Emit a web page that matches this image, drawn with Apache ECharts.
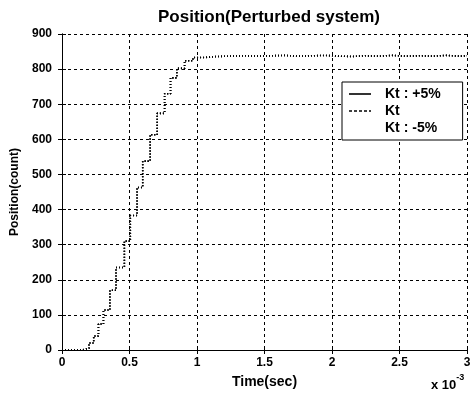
<!DOCTYPE html>
<html>
<head>
<meta charset="utf-8">
<script src="https://cdn.jsdelivr.net/npm/echarts@6/dist/echarts.min.js"></script>
<style>html,body{margin:0;padding:0;background:#fff;}#c{width:475px;height:394px;}</style>
</head>
<body>
<div id="c"></div>
<script>
// time in units of 1e-3 s
var timeMs = [0, 0.10, 0.15, 0.20, 0.235, 0.27, 0.307, 0.355, 0.40, 0.462, 0.506, 0.556, 0.598, 0.653, 0.705, 0.760, 0.804, 0.851, 0.908, 0.970,
  1.05, 1.15, 1.25, 1.35, 1.45, 1.55, 1.65, 1.75, 1.85, 1.95, 2.05, 2.15, 2.25, 2.35, 2.45, 2.55, 2.65, 2.75, 2.85, 2.95, 3.0];
var posKtPlus = [0, 0, 5, 20, 40, 74, 114, 170, 235, 310, 383, 463, 538, 613, 674, 730, 775, 802, 824, 833,
  836, 837, 838, 837, 838, 839, 837, 838, 839, 837, 836, 838, 837, 839, 837, 838, 837, 839, 837, 838, 838];
var posKt = [0, 0, 5, 20, 40, 74, 114, 170, 235, 310, 383, 463, 538, 613, 674, 730, 775, 802, 824, 833,
  836, 837, 838, 837, 838, 839, 837, 838, 839, 837, 836, 838, 837, 839, 837, 838, 837, 839, 837, 838, 838];
var posKtMinus = [0, 0, 5, 20, 40, 74, 114, 170, 235, 310, 383, 463, 538, 613, 674, 730, 775, 802, 824, 833,
  836, 837, 838, 837, 838, 839, 837, 838, 839, 837, 836, 838, 837, 839, 837, 838, 837, 839, 837, 838, 838];
var seriesNames = ['Kt : +5%', 'Kt', 'Kt : -5%'];
var xTicks = [0, 0.5, 1, 1.5, 2, 2.5, 3];
var yTicks = [0, 100, 200, 300, 400, 500, 600, 700, 800, 900];

function pairs(xs, ys) { return xs.map(function (x, i) { return [x, ys[i]]; }); }

var FONT = 'Liberation Sans, Arial, sans-serif';
var chart = echarts.init(document.getElementById('c'), null, {renderer: 'canvas'});
function mkSeries(name, data) {
  return {name: name, type: 'line', step: 'end', data: data, symbol: 'none', showSymbol: false,
    lineStyle: {type: [1, 2], width: 1.6, color: '#000'}, itemStyle: {color: '#000'}, animation: false, z: 3};
}
chart.setOption({
  animation: false,
  backgroundColor: '#fff',
  title: {text: 'Position(Perturbed system)', left: 264, top: 4, textAlign: 'center',
    textStyle: {fontFamily: FONT, fontWeight: 'bold', fontSize: 17, color: '#000'}},
  grid: {left: 62, right: 8, top: 34, bottom: 41, containLabel: false},
  legend: {
    orient: 'vertical', left: 342, top: 82,
    padding: [5, 22, 5, 6], itemGap: 3, itemWidth: 22, itemHeight: 14,
    backgroundColor: '#fff', borderColor: '#000', borderWidth: 1,
    itemStyle: {color: 'rgba(0,0,0,0)', borderColor: 'rgba(0,0,0,0)', borderWidth: 0, opacity: 0},
    textStyle: {fontFamily: FONT, fontWeight: 'bold', fontSize: 14, color: '#000', padding: [0, 0, 0, 9]},
    data: [
      {name: seriesNames[0], lineStyle: {type: 'solid', width: 1.6, color: '#000'}},
      {name: seriesNames[1], lineStyle: {type: [3, 2], width: 1.6, color: '#000'}},
      {name: seriesNames[2], lineStyle: {color: 'rgba(0,0,0,0)'}}
    ]
  },
  xAxis: [{
    type: 'value', min: 0, max: 3, interval: 0.5, position: 'bottom',
    name: 'Time(sec)', nameLocation: 'middle', nameGap: 25,
    nameTextStyle: {fontFamily: FONT, fontWeight: 'bold', fontSize: 14, color: '#000'},
    axisLine: {show: true, lineStyle: {color: '#000', width: 1}},
    axisTick: {show: true, inside: true, length: 4, lineStyle: {color: '#000'}},
    axisLabel: {fontFamily: FONT, fontWeight: 'bold', fontSize: 12, color: '#000', margin: 7,
      formatter: function (v) { return xTicks.indexOf(v) >= 0 ? String(v) : ''; }},
    splitLine: {show: true, lineStyle: {type: [3, 3], color: '#000', width: 1}}
  }, {
    type: 'value', min: 0, max: 3, interval: 0.5, position: 'top',
    axisLine: {show: true, lineStyle: {color: '#000', width: 1}},
    axisTick: {show: true, inside: true, length: 4, lineStyle: {color: '#000'}},
    axisLabel: {show: false}, splitLine: {show: false}
  }],
  yAxis: [{
    type: 'value', min: 0, max: 900, interval: 100, position: 'left',
    name: 'Position(count)', nameLocation: 'middle', nameGap: 34, nameRotate: 90,
    nameTextStyle: {fontFamily: FONT, fontWeight: 'bold', fontSize: 12, color: '#000'},
    axisLine: {show: true, lineStyle: {color: '#000', width: 1}},
    axisTick: {show: true, inside: true, length: 4, lineStyle: {color: '#000'}},
    axisLabel: {fontFamily: FONT, fontWeight: 'bold', fontSize: 12, color: '#000', margin: 10,
      formatter: function (v) { return yTicks.indexOf(v) >= 0 ? String(v) : ''; }},
    splitLine: {show: true, lineStyle: {type: [3, 3], color: '#000', width: 1}}
  }, {
    type: 'value', min: 0, max: 900, interval: 100, position: 'right',
    axisLine: {show: true, lineStyle: {color: '#000', width: 1}},
    axisTick: {show: true, inside: true, length: 4, lineStyle: {color: '#000'}},
    axisLabel: {show: false}, splitLine: {show: false}
  }],
  graphic: [{
    type: 'text', left: 431, top: 373,
    style: {
      text: '{b|x 10}{s|-3}',
      rich: {
        b: {fontFamily: FONT, fontSize: 13, fontWeight: 'bold', fill: '#000', padding: [6, 0, 0, 0]},
        s: {fontFamily: FONT, fontSize: 9, fontWeight: 'bold', fill: '#000', verticalAlign: 'top'}
      }
    }
  }],
  series: [
    mkSeries(seriesNames[0], pairs(timeMs, posKtPlus)),
    mkSeries(seriesNames[1], pairs(timeMs, posKt)),
    mkSeries(seriesNames[2], pairs(timeMs, posKtMinus))
  ]
});
</script>
</body>
</html>
